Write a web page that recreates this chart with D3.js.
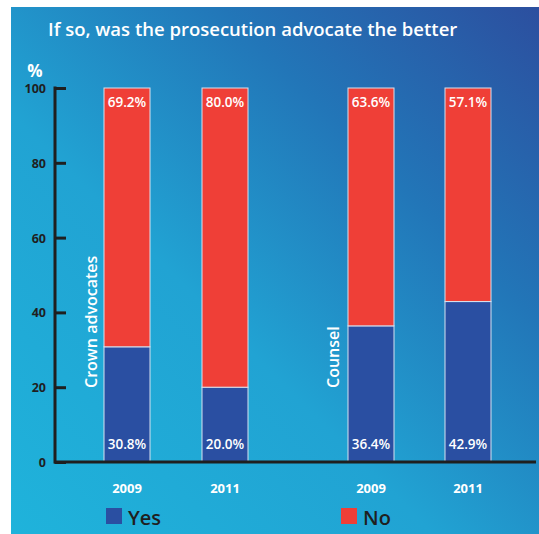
<!DOCTYPE html>
<html>
<head>
<meta charset="utf-8">
<script src="https://cdn.jsdelivr.net/npm/d3@7"></script>
<style>
  html, body { margin: 0; padding: 0; background: #fff; }
  svg { display: block; }
  text { font-family: "Open Sans", "Noto Sans", sans-serif; }
</style>
</head>
<body>
<svg id="chart" width="539" height="534"></svg>
<script>
// Survey answers: share saying the prosecution advocate was the better one
const groups = ["Crown advocates", "Counsel"];
const years = ["2009", "2011"];
const yesValues = [30.8, 20.0, 36.4, 42.9];
const noValues = [69.2, 80.0, 63.6, 57.1];
const yTicks = [0, 20, 40, 60, 80, 100];
const seriesNames = ["Yes", "No"];

const colors = { Yes: "#2a4fa2", No: "#ef3f37" };

// One entry per bar: group, year and stacked values
const bars = [];
groups.forEach((g, gi) => {
  years.forEach((yr, yi) => {
    const i = gi * years.length + yi;
    bars.push({ id: i, group: g, year: yr, Yes: yesValues[i], No: noValues[i] });
  });
});

const svg = d3.select("#chart");

// Background panel with a diagonal cyan-to-blue gradient
const defs = svg.append("defs");
const grad = defs.append("linearGradient")
  .attr("id", "bg").attr("x1", "0%").attr("y1", "100%").attr("x2", "100%").attr("y2", "0%");
grad.append("stop").attr("offset", "0%").attr("stop-color", "#1fb3db");
grad.append("stop").attr("offset", "40%").attr("stop-color", "#21a3d3");
grad.append("stop").attr("offset", "70%").attr("stop-color", "#2276b8");
grad.append("stop").attr("offset", "100%").attr("stop-color", "#2c4f9f");
svg.append("rect").attr("x", 11).attr("y", 7).attr("width", 528).attr("height", 527).attr("fill", "url(#bg)");

// Title
svg.append("text").attr("x", 48).attr("y", 36)
  .attr("fill", "#fff").attr("font-size", 18.5).attr("font-weight", 600)
  .text("If so, was the prosecution advocate the better");

svg.append("text").attr("x", 35).attr("y", 77).attr("text-anchor", "middle")
  .attr("fill", "#fff").attr("font-size", 17).attr("font-weight", 700).text("%");

// Scales
const y = d3.scaleLinear().domain([0, 100]).range([462, 88]);
// Two groups of two bars with a wider gap between the groups
const barX = d3.scaleOrdinal().domain(bars.map(d => d.id)).range([104, 202, 348, 445]);
const barW = 46;

// Stacked bars
const stack = d3.stack().keys(seriesNames);
const layers = stack(bars);
layers.forEach(layer => {
  svg.append("g").selectAll("rect").data(layer).join("rect")
    .attr("x", d => barX(d.data.id))
    .attr("y", d => y(d[1]))
    .attr("width", barW)
    .attr("height", d => y(d[0]) - y(d[1]))
    .attr("fill", colors[layer.key])
    .attr("stroke", "#d6e2f0").attr("stroke-width", 1);
});

// Value labels: No at top of bar, Yes at the bottom
svg.append("g").selectAll("text").data(bars).join("text")
  .attr("x", d => barX(d.id) + barW / 2).attr("y", y(100) + 19)
  .attr("text-anchor", "middle").attr("fill", "#fff")
  .attr("font-size", 13.5).attr("font-weight", 600)
  .text(d => d.No.toFixed(1) + "%");
svg.append("g").selectAll("text").data(bars).join("text")
  .attr("x", d => barX(d.id) + barW / 2).attr("y", y(0) - 13)
  .attr("text-anchor", "middle").attr("fill", "#fff")
  .attr("font-size", 13.5).attr("font-weight", 600)
  .text(d => d.Yes.toFixed(1) + "%");

// Y axis
const yAxis = d3.axisRight(y).tickValues(yTicks).tickSize(11).tickFormat("");
const yg = svg.append("g").attr("transform", "translate(55,0)").call(yAxis);
yg.select(".domain").remove();
yg.selectAll(".tick line").attr("stroke", "#1f1f1f").attr("stroke-width", 3);
svg.append("line").attr("x1", 55).attr("x2", 55).attr("y1", y(100) - 1.5).attr("y2", y(0) + 1.5)
  .attr("stroke", "#1f1f1f").attr("stroke-width", 3);
svg.append("g").selectAll("text").data(yTicks).join("text")
  .attr("x", 46).attr("y", d => y(d) + 5)
  .attr("text-anchor", "end").attr("fill", "#1f1f1f")
  .attr("font-size", 12.5).attr("font-weight", 700)
  .text(d => d);

// X axis line
svg.append("line").attr("x1", 54).attr("x2", 536).attr("y1", y(0)).attr("y2", y(0))
  .attr("stroke", "#1f1f1f").attr("stroke-width", 3);

// Year labels under each bar
svg.append("g").selectAll("text").data(bars).join("text")
  .attr("x", d => barX(d.id) + barW / 2).attr("y", 493)
  .attr("text-anchor", "middle").attr("fill", "#fff")
  .attr("font-size", 13).attr("font-weight", 700)
  .text(d => d.year);

// Rotated group labels
const groupLabelX = [97, 339];
groups.forEach((g, i) => {
  svg.append("text")
    .attr("transform", `translate(${groupLabelX[i]},388) rotate(-90)`)
    .attr("fill", "#fff").attr("font-size", 16).attr("font-weight", 600)
    .text(g);
});

// Legend
const legendX = [106, 341];
seriesNames.forEach((s, i) => {
  svg.append("rect").attr("x", legendX[i]).attr("y", 508).attr("width", 16).attr("height", 16)
    .attr("fill", colors[s]);
  svg.append("text").attr("x", legendX[i] + 22).attr("y", 525)
    .attr("fill", "#1f1f1f").attr("font-size", 20).attr("font-weight", 600)
    .text(s);
});
</script>
</body>
</html>
